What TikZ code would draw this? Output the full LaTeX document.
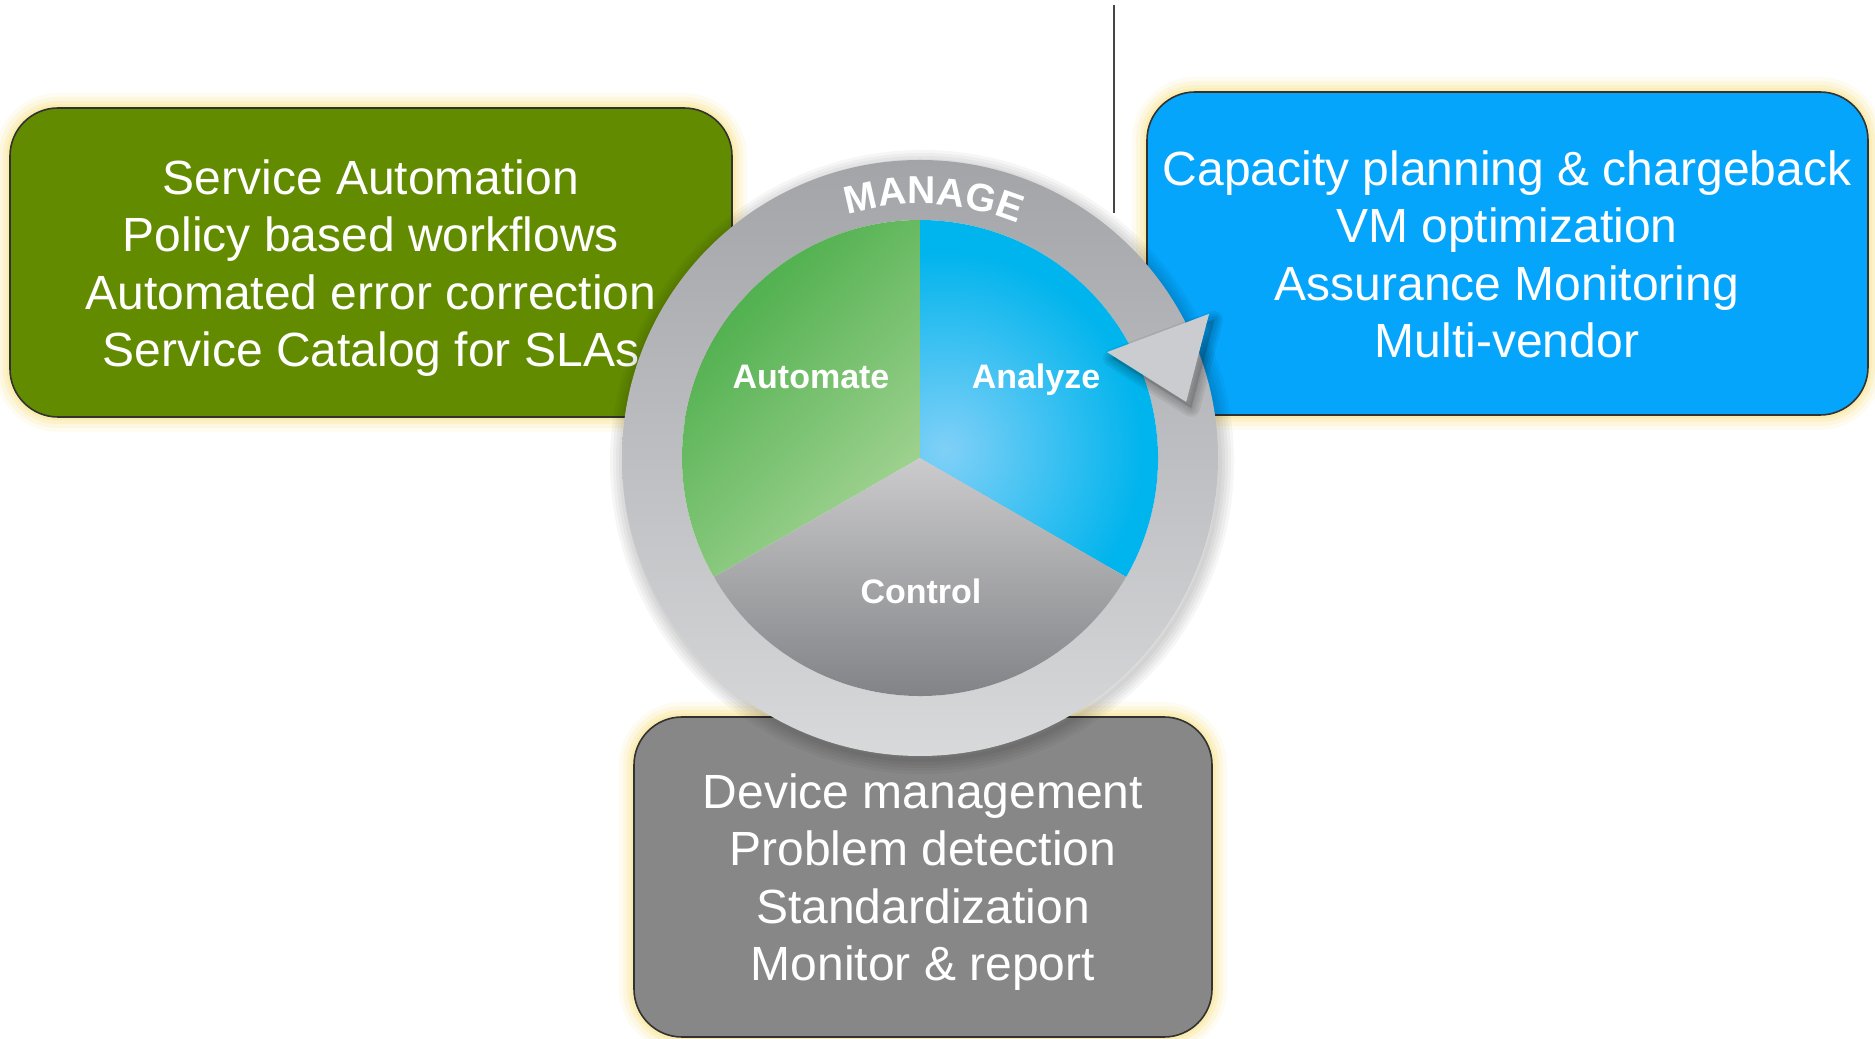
\documentclass[tikz,border=0pt]{standalone}
\usepackage{fontspec}
\setmainfont{Liberation Sans}
\usetikzlibrary{calc,decorations.text}
\definecolor{boxgreen}{RGB}{99,139,0}
\definecolor{boxblue}{RGB}{5,165,252}
\definecolor{boxgray}{RGB}{135,135,135}
\definecolor{glow}{RGB}{250,225,120}
\definecolor{edgegray}{RGB}{50,50,50}
\definecolor{linegray}{RGB}{70,70,70}
\definecolor{ringtop}{RGB}{163,164,168}
\definecolor{ringmid}{RGB}{232,232,233}
\definecolor{ringbot}{RGB}{216,217,219}
\definecolor{headgray}{RGB}{203,204,207}
\definecolor{pgdark}{RGB}{70,172,70}
\definecolor{pglight}{RGB}{165,212,149}
\definecolor{pblue}{RGB}{0,180,237}
\definecolor{pbluelight}{RGB}{128,208,247}
\definecolor{pgraytop}{RGB}{203,203,205}
\definecolor{pgraybot}{RGB}{120,121,125}
\newcommand\managefnt{\bfseries\fontsize{39}{42}\selectfont}
\newcommand\glowrect[5]{%
  \foreach \w/\o in {30/0.10,22/0.14,14/0.2,7/0.3}
    {\draw[glowline, line width=\w pt, opacity=\o] (#1,#2) rectangle (#3,#4);}
  \draw[boxedge, fill=#5] (#1,#2) rectangle (#3,#4);
}
\begin{document}
\begin{tikzpicture}[x=1pt,y=1pt,
  boxtext/.style={text=white, font=\fontsize{48}{57.5}\selectfont, align=center, inner sep=0pt},
  pielabel/.style={text=white, font=\bfseries\fontsize{34}{40}\selectfont, anchor=base, inner sep=0pt},
  boxedge/.style={draw=edgegray, line width=1.6pt, rounded corners=48pt},
  glowline/.style={draw=glow, rounded corners=48pt, line join=round},
]
\useasboundingbox (0,0) rectangle (1875,1039);
\fill[white] (0,0) rectangle (1875,1039);

% thin vertical line
\coordinate (ltop) at (1114,1034);
\coordinate (lbot) at (1114,826);
\draw[linegray, line width=1.5pt] (ltop) -- (lbot);

% boxes
\glowrect{10}{622}{732}{931}{boxgreen}
\glowrect{1147}{624}{1868}{947}{boxblue}
\glowrect{634}{2}{1212}{322}{boxgray}

\node[boxtext] (gtext) at (371,770) {\strut Service Automation\\Policy based workflows\\Automated error correction\\Service Catalog for SLAs\strut};
\node[boxtext] (btext) at (1507,779) {\strut Capacity planning \& chargeback\\VM optimization\\Assurance Monitoring\\Multi-vendor\strut};
\node[boxtext] (ktext) at (923,156) {\strut Device management\\Problem detection\\Standardization\\Monitor \& report\strut};

% ring
\coordinate (C) at (920,581);
\foreach \w in {4,10,16,22,28}
  {\draw[black, opacity=0.035, line width=\w pt] ($(C)+(2,-4)$) circle (298);}
\shade[top color=ringtop, middle color=ringmid, bottom color=ringbot, even odd rule] (C) circle (298) (C) circle (238);

% pie
\shade[top color=pgdark, bottom color=pglight, shading angle=45] (C) -- ++(90:238) arc (90:210:238) -- cycle;
\fill[pblue] (C) -- ++(-30:238) arc (-30:90:238) -- cycle;
\begin{scope}
  \clip (C) -- ++(-30:238) arc (-30:90:238) -- cycle;
  \shade[inner color=pbluelight, outer color=pblue] ($(C)+(25,8)$) circle (200);
\end{scope}
\shade[top color=pgraytop, bottom color=pgraybot] (C) -- ++(210:238) arc (210:330:238) -- cycle;

% arrow head
\coordinate (tip) at ($(C)+(11.9:272)$);
\coordinate (bin) at ($(C)+(29.5:215)$);
\coordinate (bout) at ($(C)+(26.5:323)$);
\foreach \w in {3,8,13,18}
  {\draw[black, opacity=0.06, line width=\w pt, line join=round] ([shift={(5,-6)}]bin) -- ([shift={(5,-6)}]bout) -- ([shift={(5,-6)}]tip) -- cycle;}
\fill[black, opacity=0.12] ([shift={(5,-6)}]bin) -- ([shift={(5,-6)}]bout) -- ([shift={(5,-6)}]tip) -- cycle;
\fill[headgray] (bin) -- (bout) -- (tip) -- cycle;

% MANAGE along the ring
\coordinate (mstart) at ($(C)+(108:254)$);
\path[decorate, decoration={text along path, text={|\managefnt\color{white}|MANAGE}, text align=center}]
  (mstart) arc (108:66:254);

% pie labels
\node[pielabel] (auto) at (811,650) {Automate};
\node[pielabel] (anal) at (1036,650) {Analyze};
\node[pielabel] (ctrl) at (921,435) {Control};
\end{tikzpicture}
\end{document}
